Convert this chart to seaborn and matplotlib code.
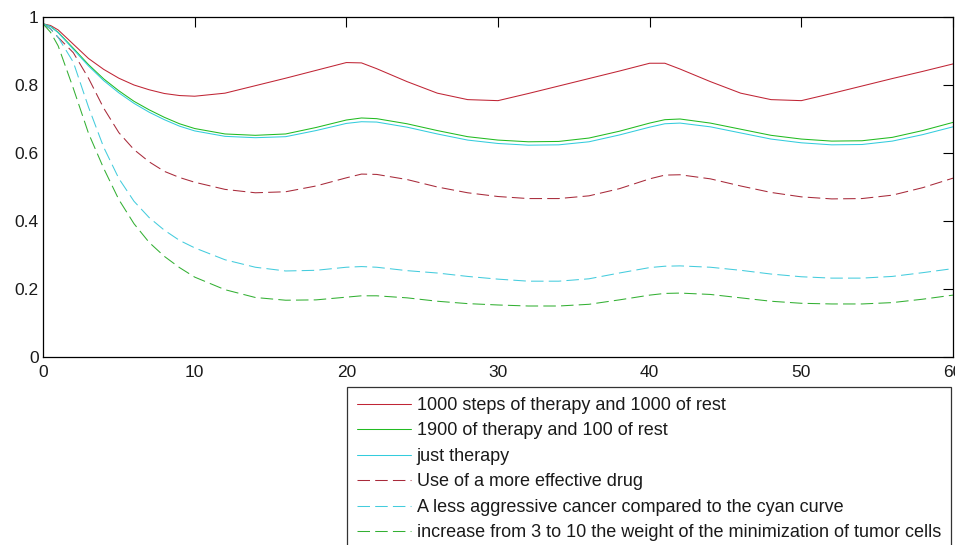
import pandas as pd
import matplotlib
matplotlib.use("Agg")
import matplotlib.pyplot as plt
import seaborn as sns

time = [0, 0.5, 1, 2, 3, 4, 5, 6, 7, 8, 9, 10, 12, 14, 16, 18, 20, 21, 22, 24, 26,
        28, 30, 32, 34, 36, 38, 40, 41, 42, 44, 46, 48, 50, 52, 54, 56, 58, 60]

red_solid = [0.98, 0.975, 0.962, 0.92, 0.878, 0.846, 0.82, 0.80, 0.786, 0.775, 0.769,
             0.767, 0.776, 0.798, 0.82, 0.843, 0.866, 0.865, 0.848, 0.81, 0.776,
             0.757, 0.754, 0.775, 0.797, 0.819, 0.841, 0.864, 0.864, 0.847, 0.81,
             0.776, 0.757, 0.754, 0.775, 0.797, 0.819, 0.84, 0.862]
green_solid = [0.98, 0.972, 0.955, 0.908, 0.86, 0.818, 0.783, 0.752, 0.727, 0.705, 0.686,
               0.672, 0.656, 0.652, 0.656, 0.675, 0.697, 0.703, 0.701, 0.686, 0.666,
               0.648, 0.638, 0.633, 0.634, 0.644, 0.664, 0.688, 0.698, 0.70, 0.688,
               0.67, 0.652, 0.641, 0.635, 0.636, 0.646, 0.666, 0.69]
cyan_solid = [0.98, 0.972, 0.954, 0.905, 0.856, 0.813, 0.777, 0.746, 0.72, 0.698, 0.679,
              0.665, 0.649, 0.645, 0.648, 0.666, 0.687, 0.692, 0.691, 0.676, 0.656,
              0.638, 0.628, 0.623, 0.624, 0.633, 0.653, 0.676, 0.686, 0.688, 0.677,
              0.659, 0.641, 0.63, 0.624, 0.625, 0.635, 0.654, 0.677]
red_dashed = [0.98, 0.965, 0.94, 0.895, 0.82, 0.732, 0.66, 0.61, 0.574, 0.546, 0.528,
              0.514, 0.493, 0.483, 0.486, 0.503, 0.527, 0.538, 0.537, 0.522, 0.50,
              0.483, 0.472, 0.466, 0.466, 0.474, 0.495, 0.524, 0.535, 0.536, 0.524,
              0.503, 0.484, 0.471, 0.465, 0.466, 0.476, 0.498, 0.526]
cyan_dashed = [0.98, 0.965, 0.94, 0.867, 0.735, 0.617, 0.525, 0.458, 0.41, 0.373, 0.343,
               0.321, 0.286, 0.264, 0.253, 0.255, 0.264, 0.266, 0.264, 0.254, 0.247,
               0.237, 0.229, 0.223, 0.223, 0.23, 0.247, 0.263, 0.267, 0.268, 0.264,
               0.255, 0.244, 0.236, 0.232, 0.232, 0.237, 0.248, 0.26]
green_dashed = [0.98, 0.955, 0.915, 0.79, 0.658, 0.555, 0.463, 0.392, 0.337, 0.296, 0.263,
                0.235, 0.198, 0.175, 0.167, 0.168, 0.176, 0.18, 0.18, 0.174, 0.164,
                0.157, 0.153, 0.15, 0.15, 0.155, 0.168, 0.182, 0.187, 0.188, 0.184,
                0.174, 0.164, 0.158, 0.156, 0.156, 0.16, 0.17, 0.182]

labels = ["1000 steps of therapy and 1000 of rest",
          "1900 of therapy and 100 of rest",
          "just therapy",
          "Use of a more effective drug",
          "A less aggressive cancer compared to the cyan curve",
          "increase from 3 to 10 the weight of the minimization of tumor cells"]
series = [red_solid, green_solid, cyan_solid, red_dashed, cyan_dashed, green_dashed]
colors = ["#c02535", "#22bb22", "#33ccdd", "#a82a3a", "#44ccdd", "#33b033"]
dashed = [False, False, False, True, True, True]

x_ticks = [0, 10, 20, 30, 40, 50, 60]
x_tick_labels = ["0", "10", "20", "30", "40", "50", "60"]
y_ticks = [0, 0.2, 0.4, 0.6, 0.8, 1]
y_tick_labels = ["0", "0.2", "0.4", "0.6", "0.8", "1"]

sns.set_style("white")
plt.rcParams['font.family'] = ['Liberation Sans', 'DejaVu Sans']

fig = plt.figure(figsize=(9.55, 5.45), dpi=100)
ax = fig.add_axes([43 / 955, 1 - 357 / 545, 910 / 955, 340 / 545])

for vals, lab, col, dsh in zip(series, labels, colors, dashed):
    df = pd.DataFrame({"t": time, "v": vals})
    ls = (0, (12, 5)) if dsh else "-"
    sns.lineplot(data=df, x="t", y="v", ax=ax, color=col, linewidth=0.75,
                 linestyle=ls, label=lab)

ax.set_xlim(0, 60)
ax.set_ylim(0, 1)
ax.set_xticks(x_ticks)
ax.set_xticklabels(x_tick_labels)
ax.set_yticks(y_ticks)
ax.set_yticklabels(y_tick_labels)
ax.set_xlabel("")
ax.set_ylabel("")
ax.tick_params(direction="in", top=True, right=True, length=7, width=0.8,
               color="black", labelsize=12.5, labelcolor="#1a1a1a")
ax.tick_params(axis="y", pad=3)
ax.tick_params(axis="x", pad=6)
for sp in ax.spines.values():
    sp.set_visible(True)
    sp.set_color("black")
    sp.set_linewidth(0.9)

handles, labs = ax.get_legend_handles_labels()
ax.get_legend().remove()
leg = fig.legend(handles, labs, loc="upper left", bbox_to_anchor=(347 / 955, 1 - 387 / 545),
                 bbox_transform=fig.transFigure, fontsize=13, frameon=True,
                 fancybox=False, shadow=False, borderaxespad=0, borderpad=0.55,
                 handlelength=3.0, handletextpad=0.3, labelspacing=0.47)
leg.get_frame().set_edgecolor("black")
leg.get_frame().set_linewidth(0.9)
leg.get_frame().set_facecolor("white")
for t in leg.get_texts():
    t.set_color("#1a1a1a")

plt.savefig("out.png", dpi=100)
plt.close()
